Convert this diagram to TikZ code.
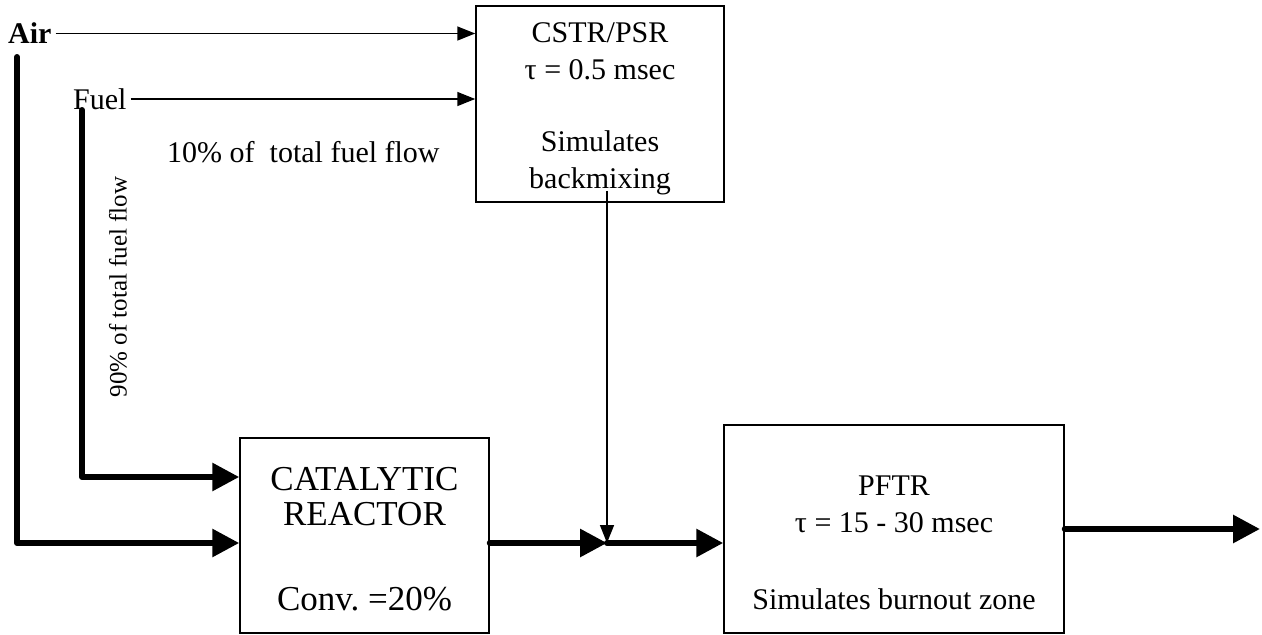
\documentclass[tikz,border=0pt]{standalone}
\usepackage{fontspec}
\setmainfont{Liberation Serif}
\usetikzlibrary{arrows.meta}

\tikzset{
  reactor/.style={draw, line width=1.5pt, inner sep=0pt},
  flowtext/.style={align=center, font=\fontsize{30}{37}\selectfont, inner sep=0pt},
  inlet/.style={inner xsep=4pt, inner ysep=0pt, anchor=west, font=\fontsize{30}{37}\selectfont},
  thickflow/.style={line width=6pt, line cap=round, line join=round, -{Triangle[length=27pt,width=27pt]}},
  thinflow/.style={line width=1.5pt, -{Triangle[length=18pt,width=14pt]}},
}

\begin{document}
\begin{tikzpicture}[x=1pt, y=-1pt]
    \useasboundingbox (0,0) rectangle (1262,635);

    % reactors
    \node[reactor, minimum width=248pt, minimum height=196pt] (cstr) at (600,104) {};
    \node[reactor, minimum width=249pt, minimum height=195pt] (cat) at (364.5,535.5) {};
    \node[reactor, minimum width=340pt, minimum height=208pt] (pftr) at (894,529) {};

    \node[flowtext] (cstrtext) at (600,109) {CSTR/PSR\\τ = 0.5 msec\\[35pt]Simulates\\backmixing};
    \node[flowtext, font=\fontsize{35}{35}\selectfont] (cattext) at (364.5,539) {CATALYTIC\\REACTOR\\[50pt]Conv.\ =20\%};
    \node[flowtext] (pftrtext) at (894,543) {PFTR\\τ = 15 - 30 msec\\[40pt]Simulates burnout zone};

    % inlets
    \node[inlet, font=\bfseries\fontsize{30}{37}\selectfont] (air) at (4,33.5) {Air};
    \node[inlet] (fuel) at (69,99) {Fuel};
    \node[flowtext, anchor=west] (tenpct) at (167,152) {10\% of\ \ total fuel flow};
    \node[flowtext, rotate=90, font=\fontsize{25}{30}\selectfont] (ninetypct) at (118,287) {90\% of total fuel flow};

    \coordinate (airdown) at (17,57);
    \coordinate (fueldown) at (82,110);
    \coordinate (mix) at (607,543);
    \coordinate (drop) at (mix |- cstr.south);
    \coordinate (exit) at (1260,529);

    % flows
    \foreach \src in {air, fuel} \draw[thinflow] (\src.east) -- (cstr.west |- \src.east);
    \draw[thickflow] (airdown) |- (cat.west |- mix);
    \draw[thickflow] (fueldown) |- ([yshift=58.5pt]cat.west);
    \draw[thinflow] ([yshift=12pt]drop) -- (mix);
    \draw[thickflow] (cat.east |- mix) -- (mix);
    \draw[thickflow] (mix) -- (pftr.west |- mix);
    \draw[thickflow] (pftr.east) -- (exit);
\end{tikzpicture}
\end{document}
